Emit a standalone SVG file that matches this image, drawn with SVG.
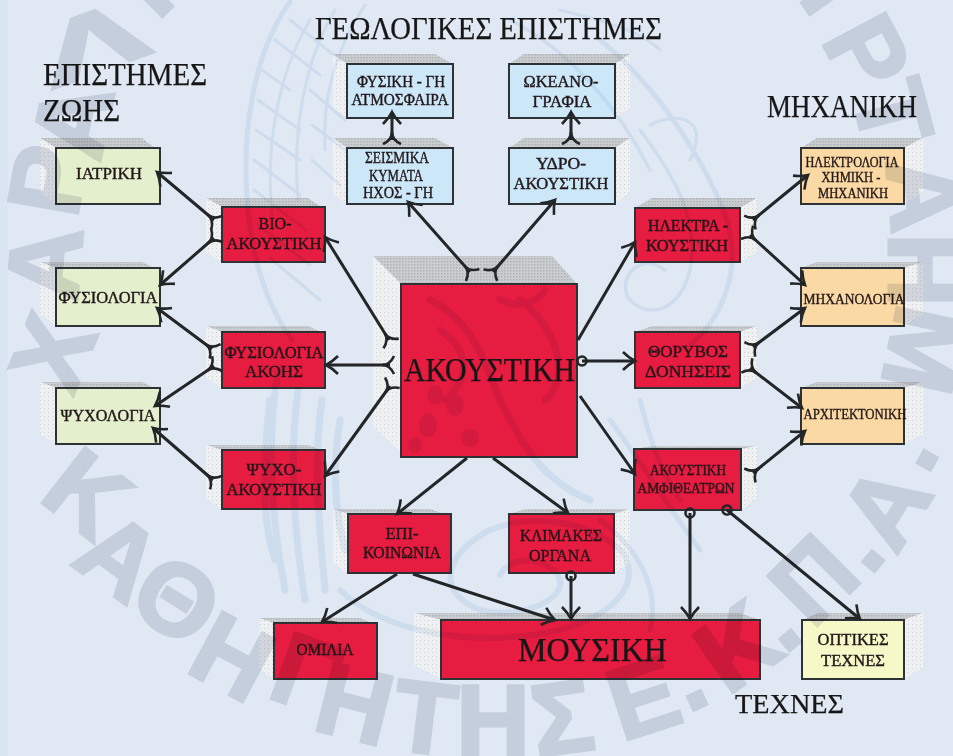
<svg xmlns="http://www.w3.org/2000/svg" width="953" height="756" viewBox="0 0 953 756">
<style>
.bg{fill:#e0e8f3}
.soft{filter:url(#soft)}
.top{fill:url(#dt)}
.side{fill:url(#ds)}
.box{stroke:#2f3136;stroke-width:2}
.red{fill:#e61a40}
.grn{fill:#e4efce}
.blu{fill:#cce7f8}
.org{fill:#fad9a4}
.yel{fill:#f6f8c8}
text{font-family:"Liberation Serif","Times New Roman",serif;fill:#161616;text-anchor:middle}
.h{font-size:31px;stroke:#161616;stroke-width:.25px}
.t{font-size:16px;fill:#23181a;stroke:#23181a;stroke-width:.4px}
.s{font-size:14px;fill:#23181a;stroke:#23181a;stroke-width:.35px}
.b{font-size:34px;stroke:#161616;stroke-width:.25px}
#connectors path{fill:none;stroke:#232527;stroke-width:3}
.m{fill:none;stroke:#232527;stroke-width:2.6}
.wm{mix-blend-mode:multiply}
.wm text{font-family:"Liberation Sans",Arial,sans-serif;font-weight:bold;font-size:102px;fill:#e1e3e8;stroke:#e1e3e8;stroke-width:3px}
.em{mix-blend-mode:multiply;fill:none;stroke:#ebf3fa;stroke-linecap:round;stroke-linejoin:round}
</style>
<defs>
<filter id="soft" x="-2%" y="-2%" width="104%" height="104%"><feGaussianBlur stdDeviation="0.55"/></filter>
<pattern id="dt" width="3" height="3" patternUnits="userSpaceOnUse"><rect width="3" height="3" fill="#cbced1"/><rect width="1.500" height="1.500" fill="#b0b3b6"/></pattern>
<pattern id="ds" width="4" height="4" patternUnits="userSpaceOnUse"><rect width="4" height="4" fill="#eef0f1"/><rect width="1" height="1" fill="#cfd2d4"/></pattern>
<marker id="a" markerUnits="userSpaceOnUse" markerWidth="28" markerHeight="28" refX="15" refY="14" orient="auto"><path class="m" d="M3,5 Q9,11 15,14 Q9,17 3,23"/></marker>
<marker id="f" markerUnits="userSpaceOnUse" markerWidth="28" markerHeight="28" refX="14" refY="14" orient="auto"><path class="m" d="M22,14 Q14,14 10,5 M22,14 Q14,14 10,23"/></marker>
<marker id="o" markerUnits="userSpaceOnUse" markerWidth="28" markerHeight="28" refX="14" refY="14" orient="auto"><circle class="m" cx="14" cy="14" r="4.500"/></marker>
</defs>
<rect class="bg" width="953" height="756"/>
<rect x="0" y="0" width="8" height="756" fill="#d9e5f2"/>

<g class="soft">
<g id="n-iatriki"><polygon class="top" points="40,138 142,138 155,148 56,148"/><polygon class="side" points="40,138 56,148 56,204 40,192"/><rect class="box grn" x="56" y="148" width="104" height="56"/><text class="t" x="109" y="179" textLength="66" lengthAdjust="spacingAndGlyphs">ΙΑΤΡΙΚΗ</text></g>
<g id="n-fysiologia"><polygon class="top" points="40,262 142,262 155,268 56,268"/><polygon class="side" points="40,262 56,268 56,326 40,314"/><rect class="box grn" x="56" y="268" width="104" height="58"/><text class="t" x="108" y="303" textLength="99" lengthAdjust="spacingAndGlyphs">ΦΥΣΙΟΛΟΓΙΑ</text></g>
<g id="n-psychologia"><polygon class="top" points="40,382 142,382 155,388 56,388"/><polygon class="side" points="40,382 56,388 56,444 40,434"/><rect class="box grn" x="56" y="388" width="104" height="56"/><text class="t" x="108" y="421" textLength="95" lengthAdjust="spacingAndGlyphs">ΨΥΧΟΛΟΓΙΑ</text></g>

<g id="n-bio"><polygon class="top" points="206,198 308,198 321,207 222,207"/><polygon class="side" points="206,198 222,207 222,262 206,252"/><rect class="box red" x="222" y="207" width="103" height="55"/><text class="t" x="275" y="229" textLength="33" lengthAdjust="spacingAndGlyphs">ΒΙΟ-</text><text class="t" x="274" y="249" textLength="95" lengthAdjust="spacingAndGlyphs">ΑΚΟΥΣΤΙΚΗ</text></g>
<g id="n-fys-akois"><polygon class="top" points="206,326 308,326 321,332 222,332"/><polygon class="side" points="206,326 222,332 222,388 206,378"/><rect class="box red" x="222" y="332" width="103" height="56"/><text class="t" x="274" y="358" textLength="99" lengthAdjust="spacingAndGlyphs">ΦΥΣΙΟΛΟΓΙΑ</text><text class="t" x="274" y="377" textLength="58" lengthAdjust="spacingAndGlyphs">ΑΚΟΗΣ</text></g>
<g id="n-psycho"><polygon class="top" points="206,445 308,445 321,450 222,450"/><polygon class="side" points="206,445 222,450 222,509 206,499"/><rect class="box red" x="222" y="450" width="103" height="59"/><text class="t" x="274" y="475" textLength="55" lengthAdjust="spacingAndGlyphs">ΨΥΧΟ-</text><text class="t" x="274" y="495" textLength="95" lengthAdjust="spacingAndGlyphs">ΑΚΟΥΣΤΙΚΗ</text></g>

<g id="n-atm"><polygon class="top" points="333,54 435,54 453,64 347,64"/><polygon class="side" points="333,54 347,64 347,118 333,108"/><rect class="box blu" x="347" y="64" width="106" height="54"/><text class="t" x="401" y="87" textLength="88" lengthAdjust="spacingAndGlyphs">ΦΥΣΙΚΗ - ΓΗ</text><text class="t" x="400" y="105" textLength="97" lengthAdjust="spacingAndGlyphs">ΑΤΜΟΣΦΑΙΡΑ</text></g>
<g id="n-seismika"><polygon class="top" points="333,138 435,138 453,148 347,148"/><polygon class="side" points="333,138 347,148 347,204 333,194"/><rect class="box blu" x="347" y="148" width="106" height="56"/><text class="t" x="397" y="163" textLength="64" lengthAdjust="spacingAndGlyphs">ΣΕΙΣΜΙΚΑ</text><text class="t" x="396" y="181" textLength="54" lengthAdjust="spacingAndGlyphs">ΚΥΜΑΤΑ</text><text class="t" x="398" y="198" textLength="70" lengthAdjust="spacingAndGlyphs">ΗΧΟΣ - ΓΗ</text></g>
<g id="n-okeano"><polygon class="top" points="524,54 630,54 615,64 509,64"/><polygon class="side" points="615,64 630,54 630,108 615,118"/><rect class="box blu" x="509" y="64" width="106" height="54"/><text class="t" x="561" y="87" textLength="75" lengthAdjust="spacingAndGlyphs">ΩΚΕΑΝΟ-</text><text class="t" x="562" y="107" textLength="59" lengthAdjust="spacingAndGlyphs">ΓΡΑΦΙΑ</text></g>
<g id="n-ydro"><polygon class="top" points="524,138 630,138 615,148 509,148"/><polygon class="side" points="615,148 630,138 630,192 615,204"/><rect class="box blu" x="509" y="148" width="106" height="56"/><text class="t" x="561" y="169" textLength="50" lengthAdjust="spacingAndGlyphs">ΥΔΡΟ-</text><text class="t" x="561" y="189" textLength="95" lengthAdjust="spacingAndGlyphs">ΑΚΟΥΣΤΙΚΗ</text></g>

<g id="n-akoustiki"><polygon class="top" points="373,256 552,256 577,284 401,284"/><polygon class="side" points="373,256 401,284 401,452 373,427"/><rect class="box red" x="401" y="284" width="176" height="173"/><text class="b" x="489.500" y="381" textLength="171" lengthAdjust="spacingAndGlyphs">ΑΚΟΥΣΤΙΚΗ</text></g>

<g id="n-ilektra"><polygon class="top" points="652,198 757,198 740,208 635,208"/><polygon class="side" points="740,208 757,198 757,252 740,262"/><rect class="box red" x="635" y="208" width="105" height="54"/><text class="t" x="688" y="231" textLength="80" lengthAdjust="spacingAndGlyphs">ΗΛΕΚΤΡΑ -</text><text class="t" x="687" y="251" textLength="82" lengthAdjust="spacingAndGlyphs">ΚΟΥΣΤΙΚΗ</text></g>
<g id="n-thoryvos"><polygon class="top" points="652,326 757,326 740,332 635,332"/><polygon class="side" points="740,332 757,326 757,378 740,388"/><rect class="box red" x="635" y="332" width="105" height="56"/><text class="t" x="688" y="357" textLength="80" lengthAdjust="spacingAndGlyphs">ΘΟΡΥΒΟΣ</text><text class="t" x="688" y="377" textLength="86" lengthAdjust="spacingAndGlyphs">ΔΟΝΗΣΕΙΣ</text></g>
<g id="n-amfi"><polygon class="top" points="652,446 757,446 741,449 634,449"/><polygon class="side" points="741,449 757,446 757,498 741,510"/><rect class="box red" x="634" y="449" width="107" height="61"/><text class="s" x="688" y="475" textLength="76" lengthAdjust="spacingAndGlyphs">ΑΚΟΥΣΤΙΚΗ</text><text class="s" x="686" y="493" textLength="97" lengthAdjust="spacingAndGlyphs">ΑΜΦΙΘΕΑΤΡΩΝ</text></g>

<g id="n-ilektrologia"><polygon class="top" points="817,138 923,138 904,148 801,148"/><polygon class="side" points="904,148 923,138 923,192 904,204"/><rect class="box org" x="801" y="148" width="103" height="56"/><text class="s" x="852" y="167" textLength="93" lengthAdjust="spacingAndGlyphs">ΗΛΕΚΤΡΟΛΟΓΙΑ</text><text class="s" x="851" y="182" textLength="59" lengthAdjust="spacingAndGlyphs">ΧΗΜΙΚΗ -</text><text class="s" x="853" y="198" textLength="70" lengthAdjust="spacingAndGlyphs">ΜΗΧΑΝΙΚΗ</text></g>
<g id="n-michanologia"><polygon class="top" points="817,262 923,262 904,268 801,268"/><polygon class="side" points="904,268 923,262 923,314 904,326"/><rect class="box org" x="801" y="268" width="103" height="58"/><text class="s" x="854" y="304" textLength="101" lengthAdjust="spacingAndGlyphs">ΜΗΧΑΝΟΛΟΓΙΑ</text></g>
<g id="n-architektoniki"><polygon class="top" points="817,382 923,382 904,388 801,388"/><polygon class="side" points="904,388 923,382 923,434 904,444"/><rect class="box org" x="801" y="388" width="103" height="56"/><text class="s" x="855" y="419" textLength="103" lengthAdjust="spacingAndGlyphs">ΑΡΧΙΤΕΚΤΟΝΙΚΗ</text></g>

<g id="n-epikoinonia"><polygon class="top" points="333,509 430,509 445,514 348,514"/><polygon class="side" points="333,509 348,514 348,573 333,563"/><rect class="box red" x="348" y="514" width="103" height="59"/><text class="t" x="402" y="539" textLength="33" lengthAdjust="spacingAndGlyphs">ΕΠΙ-</text><text class="t" x="402" y="558" textLength="78" lengthAdjust="spacingAndGlyphs">ΚΟΙΝΩΝΙΑ</text></g>
<g id="n-klimakes"><polygon class="top" points="526,509 630,509 614,514 509,514"/><polygon class="side" points="614,514 630,509 630,563 614,573"/><rect class="box red" x="509" y="514" width="105" height="59"/><text class="t" x="561" y="541" textLength="82" lengthAdjust="spacingAndGlyphs">ΚΛΙΜΑΚΕΣ</text><text class="t" x="560" y="561" textLength="62" lengthAdjust="spacingAndGlyphs">ΟΡΓΑΝΑ</text></g>
<g id="n-omilia"><polygon class="top" points="259,618 360,618 372,623 274,623"/><polygon class="side" points="259,618 274,623 274,679 259,669"/><rect class="box red" x="274" y="623" width="103" height="56"/><text class="t" x="325" y="655" textLength="57" lengthAdjust="spacingAndGlyphs">ΟΜΙΛΙΑ</text></g>
<g id="n-mousiki"><polygon class="top" points="414,613 740,613 760,620 441,620"/><polygon class="side" points="414,613 441,620 441,679 414,665"/><rect class="box red" x="441" y="620" width="319" height="59"/><text class="b" x="592.500" y="661" textLength="149" lengthAdjust="spacingAndGlyphs">ΜΟΥΣΙΚΗ</text></g>
<g id="n-optikes"><polygon class="top" points="818,613 923,613 904,620 802,620"/><polygon class="side" points="904,620 923,613 923,668 904,679"/><rect class="box yel" x="802" y="620" width="102" height="59"/><text class="t" x="853" y="645" textLength="71" lengthAdjust="spacingAndGlyphs">ΟΠΤΙΚΕΣ</text><text class="t" x="853" y="666" textLength="64" lengthAdjust="spacingAndGlyphs">ΤΕΧΝΕΣ</text></g>

<g id="headers">
<text class="h" x="125" y="85" textLength="164" lengthAdjust="spacingAndGlyphs">ΕΠΙΣΤΗΜΕΣ</text>
<text class="h" x="81.500" y="121" textLength="77" lengthAdjust="spacingAndGlyphs">ΖΩΗΣ</text>
<text class="h" x="488.500" y="39" textLength="347" lengthAdjust="spacingAndGlyphs">ΓΕΩΛΟΓΙΚΕΣ ΕΠΙΣΤΗΜΕΣ</text>
<text class="h" x="842" y="117" textLength="150" lengthAdjust="spacingAndGlyphs">ΜΗΧΑΝΙΚΗ</text>
<text class="h" x="789.500" y="713" style="font-size:27px" textLength="109" lengthAdjust="spacingAndGlyphs">ΤΕΧΝΕΣ</text>
</g>
</g>

<g id="connectors" class="soft">
<path marker-start="url(#f)" marker-end="url(#a)" d="M214,220 L157,172"/>
<path marker-start="url(#f)" marker-end="url(#a)" d="M214,238 L160,285"/>
<path marker-start="url(#f)" marker-end="url(#a)" d="M212,349 L157,308"/>
<path marker-start="url(#f)" marker-end="url(#a)" d="M214,366 L155,406"/>
<path marker-start="url(#f)" marker-end="url(#a)" d="M213,480 L153,428"/>
<path marker-start="url(#f)" marker-end="url(#a)" d="M389,340 L325,237"/>
<path marker-start="url(#f)" marker-end="url(#a)" d="M390,365 L326,365"/>
<path marker-start="url(#f)" marker-end="url(#a)" d="M390,386 L325,476"/>
<path marker-start="url(#f)" marker-end="url(#a)" d="M470,272 L408,202"/>
<path marker-start="url(#f)" marker-end="url(#a)" d="M493,272 L555,200"/>
<path marker-start="url(#f)" marker-end="url(#a)" d="M392,140 L392,112"/>
<path marker-start="url(#f)" marker-end="url(#a)" d="M571,140 L571,112"/>
<path marker-end="url(#a)" d="M578,340 L635,242"/>
<path marker-start="url(#o)" marker-end="url(#a)" d="M582,361 L635,361"/>
<path marker-end="url(#a)" d="M580,396 L635,474"/>
<path marker-start="url(#f)" marker-end="url(#a)" d="M753,220 L808,175"/>
<path marker-start="url(#f)" marker-end="url(#a)" d="M750,235 L805,285"/>
<path marker-start="url(#f)" marker-end="url(#a)" d="M753,347 L805,308"/>
<path marker-start="url(#f)" marker-end="url(#a)" d="M750,368 L802,408"/>
<path marker-start="url(#f)" marker-end="url(#a)" d="M753,473 L805,431"/>
<path marker-start="url(#o)" marker-end="url(#a)" d="M690,513 L690,619"/>
<path marker-start="url(#o)" marker-end="url(#a)" d="M727,510 L860,619"/>
<path marker-start="url(#o)" marker-end="url(#a)" d="M571,576 L571,619"/>
<path marker-end="url(#a)" d="M413,574 L555,620"/>
<path marker-end="url(#a)" d="M397,574 L322,622"/>
<path marker-end="url(#a)" d="M467,458 L397,514"/>
<path marker-end="url(#a)" d="M493,458 L568,513"/>
</g>

<g class="em soft" stroke-width="5">
<path d="M290,2 C255,50 240,130 248,210 C254,270 270,310 292,340" stroke-width="5"/>
<path d="M310,20 C280,70 265,140 272,215 M335,10 C305,60 292,130 298,200 M365,5 C335,50 322,100 325,150" stroke-width="3"/>
<path d="M262,70 L290,90 M258,100 L300,130 M256,130 L300,160 M254,160 L300,195 M254,190 L306,230 M258,225 L310,265 M270,258 L320,300 M275,40 L320,75 M290,20 L340,60 M310,90 L345,120 M312,125 L345,150 M312,160 L340,185" stroke-width="3"/>
<path d="M600,40 C650,80 700,150 725,215 C745,270 720,320 690,345" stroke-width="5"/>
<path d="M510,20 C570,50 620,110 650,170 M640,130 C670,170 700,215 690,270 C680,310 650,320 630,300 C615,280 640,250 665,270" stroke-width="3.500"/>
<path d="M690,160 C710,120 680,110 650,125 M560,10 C600,20 640,30 660,50" stroke-width="3"/>
<path d="M430,300 C470,320 480,350 500,400 C520,440 540,480 590,500 M440,330 C470,350 470,380 445,400 M520,300 C560,330 570,380 545,400 M500,300 C520,310 540,300 545,290" stroke-width="7"/>
<g fill="#ebf3fa" stroke="none"><ellipse cx="455" cy="405" rx="9" ry="11"/><ellipse cx="428" cy="425" rx="9" ry="12"/><ellipse cx="470" cy="438" rx="9" ry="9"/><ellipse cx="435" cy="395" rx="8" ry="10"/><ellipse cx="415" cy="445" rx="7" ry="8"/></g>
<path d="M278,370 C268,430 268,500 285,590 M298,390 C290,450 292,520 305,600 M322,400 C312,470 320,530 325,590 M270,400 C262,470 262,520 275,560 M340,420 C332,470 335,510 345,550" stroke-width="7"/>
<path d="M340,590 C380,630 470,650 560,630 C610,615 640,590 625,555 C600,525 540,510 490,530 C450,550 430,590 480,610 C520,620 565,600 560,580 C550,555 510,555 500,575" stroke-width="6"/>
<path d="M610,420 C640,460 670,510 700,550 M640,400 C650,440 660,470 680,500 M600,520 C640,550 660,590 650,630" stroke-width="5"/>
</g>

<g class="wm soft">
<text transform="translate(52,352) rotate(-68)" y="36">Χ</text>
<text transform="translate(44,263) rotate(-85)" y="36">Α</text>
<text transform="translate(47,180) rotate(-80)" y="36">Ρ</text>
<text transform="translate(72,120) rotate(-78)" y="36">Α</text>
<text transform="translate(93,42) rotate(-20) scale(1.6,.85)" y="36">Λ</text>
<text transform="translate(142,-14) rotate(-45)" y="36">Ι</text>
<text transform="translate(835,-12) rotate(55)" y="36">Ι</text>
<text transform="translate(868,53) rotate(62)" y="36">Ρ</text>
<text transform="translate(893,113) rotate(75)" y="36">Τ</text>
<text transform="translate(925,195) rotate(85)" y="36">Α</text>
<text transform="translate(925,270) rotate(90)" y="36">Η</text>
<text transform="translate(925,350) rotate(102)" y="36">Μ</text>
<text transform="translate(88,493) rotate(38)" y="36">Κ</text>
<text transform="translate(120,556) rotate(36)" y="36">Α</text>
<text transform="translate(177,599) rotate(32)" y="36">Θ</text>
<text transform="translate(233,656) rotate(28)" y="36">Η</text>
<text transform="translate(306,673) rotate(20)" y="36">Γ</text>
<text transform="translate(355,703) rotate(14)" y="36">Η</text>
<text transform="translate(425,717) rotate(7)" y="36">Τ</text>
<text transform="translate(493,720)" y="36">Η</text>
<text transform="translate(562,717) rotate(-8)" y="36">Σ</text>
<text transform="translate(643,697) rotate(-18)" y="36">Ε</text>
<text transform="translate(697,700) rotate(-25)" y="8">.</text>
<text transform="translate(737,646) rotate(-35)" y="36">Κ</text>
<text transform="translate(790,640) rotate(-40)" y="8">.</text>
<text transform="translate(813,579) rotate(-45)" y="36">Π</text>
<text transform="translate(873,561) rotate(-50)" y="8">.</text>
<text transform="translate(885,506) rotate(-58)" y="36">Α</text>
<text transform="translate(927,460) rotate(-60)" y="8">.</text>
</g>
</svg>
